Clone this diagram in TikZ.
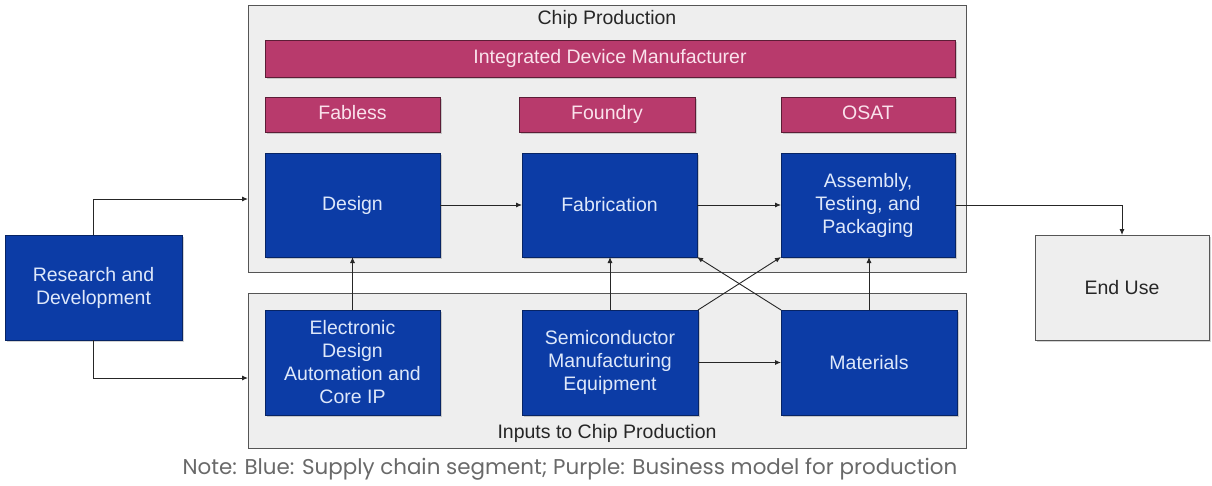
\documentclass[tikz,border=0pt]{standalone}
\usepackage{fontspec}
\setmainfont{Liberation Sans}
\newfontfamily\notefont{Poppins}
\usetikzlibrary{arrows.meta,shadows}
\definecolor{segblue}{RGB}{12,60,166}
\definecolor{segtext}{RGB}{222,232,250}
\definecolor{bizpurple}{RGB}{184,58,108}
\definecolor{biztext}{RGB}{250,226,236}
\definecolor{panelfill}{RGB}{238,238,238}
\definecolor{paneldraw}{RGB}{85,85,85}
\definecolor{notegray}{RGB}{105,105,105}
\begin{document}
\begin{tikzpicture}[x=1pt,y=-1pt,
  every node/.style={inner sep=0pt, outer sep=0pt},
  panel/.style={draw=paneldraw, fill=panelfill, line width=1pt},
  shad/.style={drop shadow={shadow xshift=1.5pt,shadow yshift=-1.5pt,opacity=0.35}},
  seg/.style={draw=segblue!60!black, fill=segblue, text=segtext, align=center, line width=0.6pt,
    font=\fontsize{19.5}{23}\selectfont, shad},
  biz/.style={draw=bizpurple!50!black, fill=bizpurple, text=biztext, align=center, line width=0.8pt,
    font=\fontsize{19.5}{23}\selectfont, text height=14pt, text depth=4pt, shad},
  lbl/.style={text=black!85, font=\fontsize{19.5}{23}\selectfont, text height=14pt, text depth=4pt},
  arr/.style={draw=black!85, line width=0.9pt, -{Latex[length=6pt,width=5pt]}},
]
\useasboundingbox (0,0) rectangle (1212,485);
% panels
\node[panel, minimum width=718pt, minimum height=267pt] (cp) at (607,138.5) {};
\node[panel, minimum width=718pt, minimum height=155pt] (inp) at (607,370.5) {};
\node[lbl] (cpl) at (607,19.5) {Chip Production};
\node[lbl] (inl) at (607,433) {Inputs to Chip Production};
% business models
\node[biz, minimum width=690pt, minimum height=37pt] (idm) at (610,58.5) {Integrated Device Manufacturer};
\node[biz, minimum width=175pt, minimum height=35pt] (fabless) at (352.5,114.5) {Fabless};
\node[biz, minimum width=176pt, minimum height=35pt] (foundry) at (607,114.5) {Foundry};
\node[biz, minimum width=174pt, minimum height=35pt] (osat) at (868,114.5) {OSAT};
% segments
\node[seg, minimum width=175pt, minimum height=104pt] (design) at (352.5,205) {Design};
\node[seg, minimum width=175pt, minimum height=104pt] (fab) at (609.5,205) {Fabrication};
\node[seg, minimum width=174pt, minimum height=104pt] (atp) at (868,205) {Assembly,\\Testing, and\\Packaging};
\node[seg, minimum width=177pt, minimum height=105pt] (rd) at (93.5,287.5) {Research and\\Development};
\node[seg, minimum width=175pt, minimum height=105pt] (eda) at (352.5,362.5) {Electronic\\Design\\Automation and\\Core IP};
\node[seg, minimum width=176pt, minimum height=105pt] (sme) at (610,362.5) {Semiconductor\\Manufacturing\\Equipment};
\node[seg, minimum width=176pt, minimum height=105pt] (mat) at (869,362.5) {Materials};
\node[panel, shad, minimum width=174pt, minimum height=105pt, text=black!85, font=\fontsize{19.5}{23}\selectfont] (eu) at (1122,287.5) {End Use};
% note
\node[text=notegray, font=\notefont\fontsize{21.4}{25}\selectfont] (note) at (570,469) {Note: Blue: Supply chain segment; Purple: Business model for production};
% connectors
\draw[arr] (rd.north) |- ([yshift=-60.5pt]cp.west);
\draw[arr] (rd.south) |- ([yshift=-7.5pt]inp.west);
\draw[arr] (design.east) -- (fab.west);
\draw[arr] (fab.east) -- (atp.west);
\draw[arr] (atp.east) -| (eu.north);
\draw[arr] (eda.north) -- (design.south);
\draw[arr] (sme.north) -- (sme.north |- fab.south);
\draw[arr] (sme.north east) -- (atp.south west);
\draw[arr] (mat.north west) -- (fab.south east);
\draw[arr] (sme.east) -- (mat.west);
\draw[arr] (mat.north) -- (mat.north |- atp.south);
\end{tikzpicture}
\end{document}
